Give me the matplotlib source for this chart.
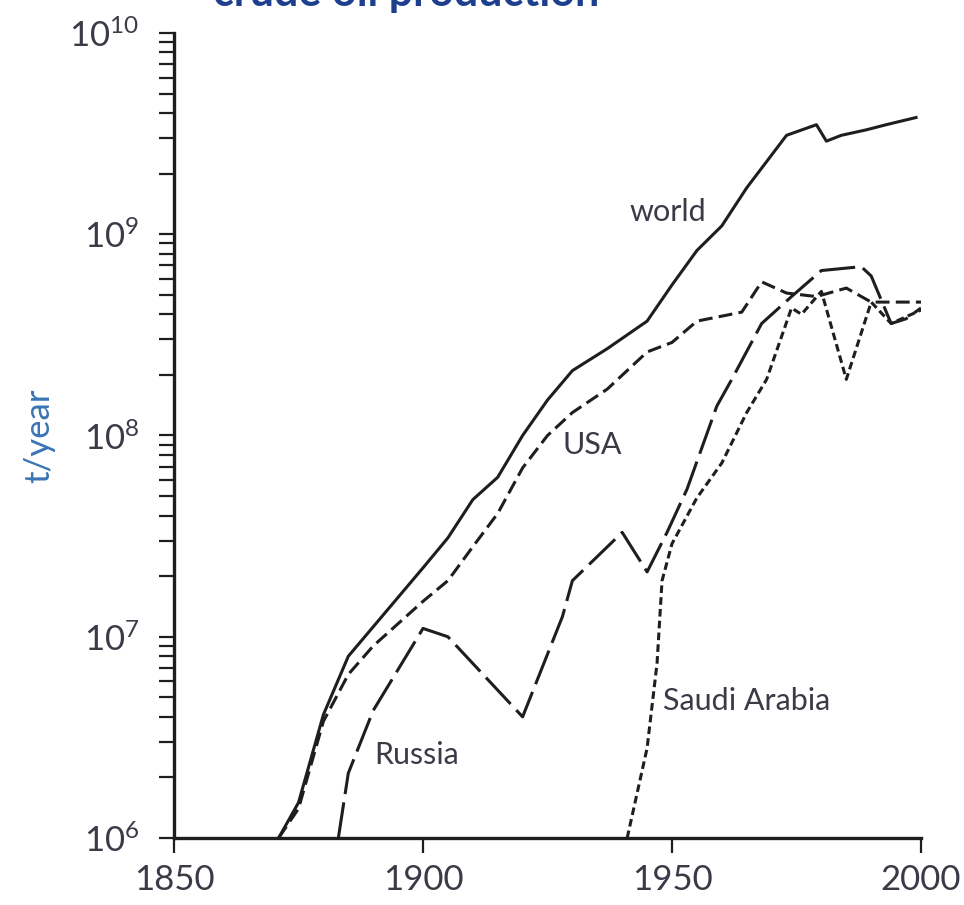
import matplotlib
matplotlib.use('Agg')
from matplotlib import pyplot as plt
from matplotlib.ticker import LogLocator, FixedLocator
import numpy as np

plt.rcParams['font.family'] = ['Lato', 'DejaVu Sans']
plt.rcParams['mathtext.default'] = 'regular'
plt.rcParams['lines.scale_dashes'] = False

# crude oil production, t/year
world_years = [1871, 1875, 1880, 1885, 1900, 1905, 1910, 1915, 1920, 1925, 1930, 1937,
               1945, 1950, 1955, 1960, 1965, 1973, 1979, 1981, 1984, 1989, 1993, 1999]
world_vals  = [1.0e6, 1.5e6, 4.1e6, 8.0e6, 2.2e7, 3.1e7, 4.8e7, 6.2e7, 1.0e8, 1.5e8, 2.1e8, 2.7e8,
               3.7e8, 5.6e8, 8.3e8, 1.1e9, 1.7e9, 3.1e9, 3.5e9, 2.9e9, 3.1e9, 3.3e9, 3.5e9, 3.8e9]

usa_years = [1871, 1875, 1880, 1885, 1890, 1900, 1905, 1910, 1915, 1920, 1925, 1930, 1937,
             1945, 1950, 1955, 1964, 1968, 1973, 1979, 1985, 1990, 1995, 2000]
usa_vals  = [1.0e6, 1.4e6, 3.8e6, 6.5e6, 9.0e6, 1.5e7, 1.9e7, 2.8e7, 4.1e7, 6.9e7, 1.0e8, 1.3e8, 1.7e8,
             2.6e8, 2.9e8, 3.7e8, 4.1e8, 5.8e8, 5.1e8, 4.9e8, 5.4e8, 4.6e8, 4.6e8, 4.6e8]

russia_years = [1883, 1885, 1890, 1900, 1905, 1920, 1928, 1930, 1940, 1945, 1949, 1953,
                1959, 1962, 1968, 1974, 1980, 1988, 1990, 1994, 1997, 2000]
russia_vals  = [1.0e6, 2.1e6, 4.3e6, 1.1e7, 1.0e7, 4.0e6, 1.26e7, 1.9e7, 3.3e7, 2.1e7, 3.3e7, 5.4e7,
                1.4e8, 1.9e8, 3.6e8, 4.9e8, 6.6e8, 6.9e8, 6.2e8, 3.6e8, 3.8e8, 4.3e8]

saudi_years = [1941, 1945, 1947, 1948, 1950, 1955, 1960, 1965, 1969, 1974, 1976, 1980,
               1985, 1990, 1994, 2000]
saudi_vals  = [1.0e6, 2.8e6, 7.4e6, 1.9e7, 2.9e7, 4.9e7, 7.3e7, 1.3e8, 1.9e8, 4.3e8, 4.0e8, 5.2e8,
               1.9e8, 4.6e8, 3.6e8, 4.2e8]

x_ticks = [1850, 1900, 1950, 2000]
y_ticks = [1e6, 1e7, 1e8, 1e9, 1e10]
y_ticklabels = [r'$10^{6}$', r'$10^{7}$', r'$10^{8}$', r'$10^{9}$', r'$10^{10}$']

line_color  = '#1e1e1e'
text_color  = '#3b3b48'
blue        = '#3a74b4'
tick_size   = 25
label_size  = 22
linewidth   = 2.2

f = plt.figure(figsize=(9.64, 9.05), dpi=100)
ax = f.add_axes([0.1805, 0.074, 0.7749, 0.8896])

ax.plot(world_years, world_vals, color=line_color, lw=linewidth, solid_joinstyle='round')
ax.plot(usa_years, usa_vals, color=line_color, lw=linewidth, dashes=(10, 4.5))
ax.plot(russia_years, russia_vals, color=line_color, lw=linewidth, dashes=(26, 6))
ax.plot(saudi_years, saudi_vals, color=line_color, lw=linewidth, dashes=(5.5, 3))

ax.set_yscale('log')
ax.set_xlim(1850, 2000)
ax.set_ylim(1e6, 1e10)

ax.xaxis.set_major_locator(FixedLocator(x_ticks))
ax.set_xticklabels([str(t) for t in x_ticks])
ax.yaxis.set_major_locator(FixedLocator(y_ticks))
ax.set_yticklabels(y_ticklabels)
ax.yaxis.set_minor_locator(LogLocator(base=10, subs=np.arange(2, 10)))
ax.yaxis.set_minor_formatter(plt.NullFormatter())

ax.tick_params(axis='both', which='major', labelsize=tick_size, colors=line_color,
               labelcolor=text_color, width=1.6, length=11, direction='out')
ax.tick_params(axis='y', which='minor', width=1.6, length=11, colors=line_color)
ax.tick_params(axis='y', which='major', pad=14)
ax.tick_params(axis='x', which='major', pad=8)

for side in ['top', 'right']:
    ax.spines[side].set_visible(False)
for side in ['left', 'bottom']:
    ax.spines[side].set_linewidth(2.4)
    ax.spines[side].set_color(line_color)

ax.set_ylabel('t/year', fontsize=25, color=blue, labelpad=10)

ax.text(1949.2, 1.29e9, 'world', fontsize=label_size, color=text_color, ha='center', va='center')
ax.text(1934, 9.0e7, 'USA', fontsize=label_size, color=text_color, ha='center', va='center')
ax.text(1898.8, 2.6e6, 'Russia', fontsize=label_size, color=text_color, ha='center', va='center')
ax.text(1965, 4.8e6, 'Saudi Arabia', fontsize=label_size, color=text_color, ha='center', va='center')

f.text(0.221, 1 - 6 / 905, 'crude oil production', fontsize=31, weight='bold',
       color='#1d3f8e', ha='left', va='baseline')

f.savefig('out.png', dpi=100)
